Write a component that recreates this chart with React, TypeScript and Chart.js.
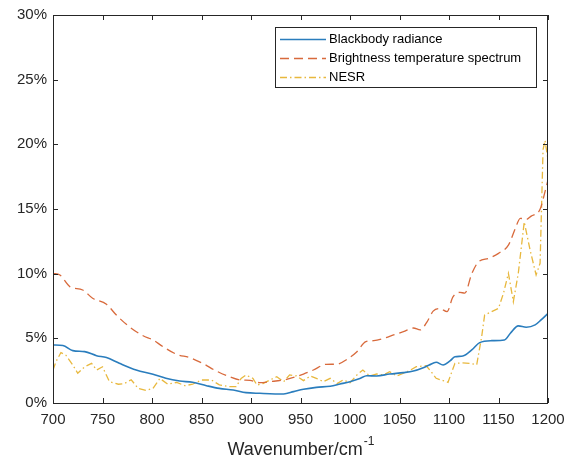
import React, { useEffect, useRef } from "react";
import { Chart, registerables } from "chart.js";

Chart.register(...registerables);

// ---- data (wavenumber in cm^-1, value in %) ----
const blackbodyX = [700, 710, 720, 732, 744, 754, 767, 784, 801, 814, 828, 841, 855, 868, 882, 895, 909, 933, 943, 953, 966, 980, 990, 1000, 1010, 1017, 1027, 1040, 1054, 1064, 1074, 1080, 1087, 1094, 1101, 1106, 1114, 1123, 1131, 1143, 1156, 1162, 1170, 1178, 1187, 1193, 1200];
const blackbodyY = [4.49, 4.45, 4.05, 3.97, 3.66, 3.51, 3.07, 2.55, 2.22, 1.91, 1.7, 1.6, 1.34, 1.13, 1.0, 0.8, 0.75, 0.7, 0.88, 1.06, 1.21, 1.3, 1.47, 1.65, 1.9, 2.11, 2.09, 2.24, 2.35, 2.47, 2.73, 2.94, 3.15, 2.94, 3.25, 3.58, 3.63, 4.1, 4.67, 4.82, 4.87, 5.39, 5.96, 5.86, 6.04, 6.42, 6.93];

const brightnessX = [700, 707, 717, 730, 740, 754, 764, 777, 791, 801, 811, 825, 838, 851, 865, 878, 889, 899, 909, 919, 933, 943, 953, 963, 976, 987, 997, 1007, 1016, 1024, 1034, 1044, 1054, 1064, 1071, 1078, 1084, 1091, 1098, 1104, 1111, 1116, 1123, 1130, 1140, 1150, 1160, 1167, 1172, 1178, 1183, 1192, 1197, 1200];
const brightnessY = [10.03, 9.9, 9.0, 8.74, 8.1, 7.63, 6.8, 5.9, 5.2, 4.88, 4.36, 3.76, 3.51, 3.07, 2.47, 2.04, 1.78, 1.75, 1.57, 1.65, 1.78, 1.98, 2.24, 2.55, 2.99, 3.0, 3.38, 3.97, 4.74, 4.82, 5.0, 5.26, 5.52, 5.8, 5.65, 6.3, 7.1, 7.3, 7.06, 8.2, 8.55, 8.5, 10.0, 10.93, 11.18, 11.57, 12.2, 13.5, 14.28, 14.2, 14.45, 14.98, 16.34, 17.25];

const nesrX = [700, 703, 708, 713, 720, 725, 732, 739, 744, 750, 757, 766, 772, 779, 786, 794, 801, 808, 816, 825, 833, 841, 850, 860, 868, 878, 885, 890, 895, 902, 906, 912, 919, 926, 933, 939, 946, 953, 960, 966, 973, 980, 987, 993, 1000, 1007, 1013, 1020, 1027, 1034, 1040, 1047, 1054, 1060, 1067, 1077, 1082, 1087, 1094, 1099, 1106, 1113, 1121, 1128, 1133, 1136, 1143, 1150, 1155, 1160, 1165, 1170, 1176, 1182, 1188, 1192, 1195, 1197, 1200];
const nesrY = [2.55, 3.2, 3.9, 3.7, 2.94, 2.3, 2.8, 3.07, 2.55, 2.8, 1.65, 1.45, 1.5, 1.8, 1.13, 0.97, 1.13, 1.9, 1.45, 1.6, 1.34, 1.45, 1.78, 1.78, 1.4, 1.26, 1.26, 1.9, 2.16, 1.9, 1.39, 1.5, 1.78, 2.03, 1.65, 2.17, 2.09, 1.73, 2.09, 1.91, 1.65, 1.91, 1.5, 1.78, 1.57, 2.17, 2.55, 2.09, 2.24, 2.17, 2.42, 2.09, 2.3, 2.5, 2.81, 2.88, 2.42, 1.91, 1.73, 1.6, 3.07, 3.1, 3.07, 2.96, 5.13, 6.8, 7.06, 7.32, 8.48, 10.03, 7.84, 10.03, 14.0, 11.8, 9.9, 10.8, 19.6, 20.3, 18.8];

const seriesLabels = ["Blackbody radiance", "Brightness temperature spectrum", "NESR"];
const xMin = 700;
const xMax = 1200;
const xStep = 50;
const yMin = 0;
const yMax = 30;
const yStep = 5;
const xTitleMain = "Wavenumber/cm";
const xTitleSup = "-1";

const FONT = "'Liberation Sans', Arial, Helvetica, sans-serif";
const AXIS_COLOR = "#262626";

const toPoints = (xs: number[], ys: number[]) => xs.map((x, i) => ({ x, y: ys[i] }));

const decorPlugin = {
  id: "decor",
  afterDraw(chart: any) {
    const ctx = chart.ctx as CanvasRenderingContext2D;
    const { left, right, top, bottom } = chart.chartArea;
    const xs = chart.scales.x;
    const ys = chart.scales.y;
    ctx.save();
    // frame
    ctx.strokeStyle = AXIS_COLOR;
    ctx.lineWidth = 1;
    ctx.setLineDash([]);
    ctx.strokeRect(Math.round(left) + 0.5, Math.round(top) + 0.5, Math.round(right - left) - 1, Math.round(bottom - top));
    // inner ticks
    const tl = 5;
    ctx.beginPath();
    for (let v = xMin; v <= xMax; v += xStep) {
      const px = Math.round(xs.getPixelForValue(v)) + 0.5;
      ctx.moveTo(px, bottom);
      ctx.lineTo(px, bottom - tl);
      ctx.moveTo(px, top);
      ctx.lineTo(px, top + tl);
    }
    for (let v = yMin; v <= yMax; v += yStep) {
      const py = Math.round(ys.getPixelForValue(v)) + 0.5;
      ctx.moveTo(left, py);
      ctx.lineTo(left + tl, py);
      ctx.moveTo(right, py);
      ctx.lineTo(right - tl, py);
    }
    ctx.stroke();

    // legend
    const lx = 275.5, ly = 27.5, lw = 261, lh = 60;
    ctx.fillStyle = "#ffffff";
    ctx.fillRect(lx, ly, lw, lh);
    ctx.strokeStyle = AXIS_COLOR;
    ctx.lineWidth = 1;
    ctx.strokeRect(lx, ly, lw, lh);
    const rowsY = [39.5, 58.5, 77.5];
    chart.data.datasets.forEach((ds: any, i: number) => {
      const y = rowsY[i];
      ctx.strokeStyle = ds.borderColor;
      ctx.lineWidth = ds.borderWidth;
      ctx.setLineDash(ds.borderDash || []);
      ctx.beginPath();
      ctx.moveTo(280, y);
      ctx.lineTo(326, y);
      ctx.stroke();
      ctx.setLineDash([]);
      ctx.fillStyle = "#000000";
      ctx.font = `13px ${FONT}`;
      ctx.textAlign = "left";
      ctx.textBaseline = "middle";
      ctx.fillText(ds.label, 329, y);
    });

    // x axis title with superscript
    ctx.fillStyle = AXIS_COLOR;
    ctx.textBaseline = "alphabetic";
    ctx.font = `18px ${FONT}`;
    const w1 = ctx.measureText(xTitleMain).width;
    ctx.font = `12px ${FONT}`;
    const w2 = ctx.measureText(xTitleSup).width;
    const cx = (left + right) / 2;
    const sx = cx - (w1 + w2) / 2;
    ctx.font = `18px ${FONT}`;
    ctx.fillText(xTitleMain, sx, 455);
    ctx.font = `12px ${FONT}`;
    ctx.fillText(xTitleSup, sx + w1 + 1, 445);
    ctx.restore();
  },
};

export default function App() {
  const ref = useRef<HTMLCanvasElement | null>(null);
  useEffect(() => {
    if (!ref.current) return;
    const chart = new Chart(ref.current, {
      type: "line",
      data: {
        datasets: [
          {
            label: seriesLabels[0],
            data: toPoints(blackbodyX, blackbodyY),
            borderColor: "#2a7dbd",
            borderWidth: 1.6,
            pointRadius: 0,
            cubicInterpolationMode: "monotone",
            fill: false,
          },
          {
            label: seriesLabels[1],
            data: toPoints(brightnessX, brightnessY),
            borderColor: "#d86a3c",
            borderWidth: 1.3,
            borderDash: [9, 5],
            pointRadius: 0,
            cubicInterpolationMode: "monotone",
            fill: false,
          },
          {
            label: seriesLabels[2],
            data: toPoints(nesrX, nesrY),
            borderColor: "#e8b83e",
            borderWidth: 1.3,
            borderDash: [7, 3, 1.5, 3],
            pointRadius: 0,
            tension: 0,
            fill: false,
          },
        ],
      } as any,
      options: {
        responsive: false,
        animation: false,
        devicePixelRatio: 1,
        layout: { padding: { left: 0, top: 15, right: 26, bottom: 0 } },
        plugins: { legend: { display: false }, tooltip: { enabled: false } },
        scales: {
          x: {
            type: "linear",
            min: xMin,
            max: xMax,
            grid: { display: false, drawTicks: false },
            border: { display: false },
            ticks: {
              stepSize: xStep,
              autoSkip: false,
              maxRotation: 0,
              padding: 8,
              color: AXIS_COLOR,
              font: { family: FONT, size: 15 },
              callback: (v: any) => String(v),
            },
            afterFit: (s: any) => {
              s.height = 56;
            },
          },
          y: {
            type: "linear",
            min: yMin,
            max: yMax,
            grid: { display: false, drawTicks: false },
            border: { display: false },
            ticks: {
              stepSize: yStep,
              padding: 6,
              color: AXIS_COLOR,
              font: { family: FONT, size: 15 },
              callback: (v: any) => `${v}%`,
            },
            afterFit: (s: any) => {
              s.width = 53;
            },
          },
        },
      } as any,
      plugins: [decorPlugin],
    });
    return () => chart.destroy();
  }, []);
  return (
    <div style={{ position: "fixed", left: 0, top: 0, width: 574, height: 459, background: "#fff" }}>
      <canvas ref={ref} width={574} height={459} style={{ display: "block" }} />
    </div>
  );
}
